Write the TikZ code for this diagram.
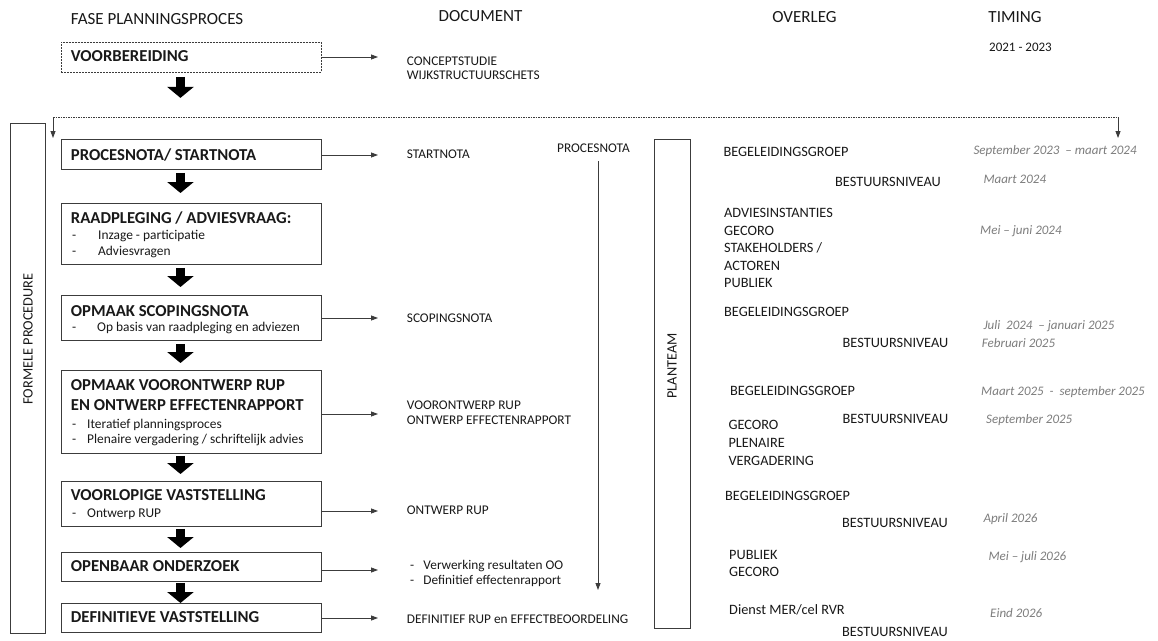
\documentclass[tikz,border=0pt]{standalone}
\usepackage{fontspec}
\setmainfont{Carlito}
\usetikzlibrary{arrows.meta}
\definecolor{bord}{RGB}{60,60,60}
\definecolor{tgray}{RGB}{125,125,125}
\definecolor{ink}{RGB}{25,25,25}
\begin{document}
\begin{tikzpicture}[x=1pt,y=-1pt,
 txt/.style={anchor=base west, inner sep=0pt, text=ink},
 hdr/.style={txt, font=\fontsize{17}{20}\selectfont},
 body/.style={txt, font=\fontsize{14.3}{17}\selectfont},
 doc/.style={txt, font=\fontsize{13.3}{16}\selectfont},
 ttl/.style={txt, font=\fontsize{16.7}{20}\selectfont\bfseries},
 sub/.style={txt, font=\fontsize{13.4}{16}\selectfont},
 tim/.style={txt, font=\fontsize{13}{16}\selectfont\itshape, text=tgray},
 box/.style={draw=bord, line width=0.9pt, rectangle, anchor=north west, inner sep=0pt, minimum width=260pt},
 col/.style={draw=bord, line width=0.9pt, rectangle, anchor=north west, inner sep=0pt},
 thin/.style={draw=bord, line width=0.8pt, -{Triangle[length=7pt,width=5pt]}},
 dots/.style={draw=bord, line width=0.8pt, dash pattern=on 1.5pt off 1pt},
 big/.style={draw=black, line width=9.5pt, -{Triangle[length=11pt,width=26pt]}},
]
\useasboundingbox (0,0) rectangle (1158,640);
\fill[white] (0,0) rectangle (1158,640);

% headers
\node[hdr] (hfase) at (70.7,24) {FASE PLANNINGSPROCES};
\node[hdr, anchor=base] (hdoc) at (480.5,21.7) {DOCUMENT};
\node[hdr, anchor=base] (hover) at (804.5,22.7) {OVERLEG};
\node[hdr, anchor=base] (htim) at (1015,22.7) {TIMING};

% boxes
\node[box, minimum height=30pt, dash pattern=on 2pt off 1pt] (b0) at (61,42) {};
\node[box, minimum height=30pt] (b1) at (61,139) {};
\node[box, minimum height=61pt] (b2) at (61,203) {};
\node[box, minimum height=45pt] (b3) at (61,295) {};
\node[box, minimum height=83pt] (b4) at (61,370) {};
\node[box, minimum height=45pt] (b5) at (61,481) {};
\node[box, minimum height=29pt] (b6) at (61,552) {};
\node[box, minimum height=29pt] (b7) at (61,603) {};

% box texts
\node[ttl] (t0) at (70.7,61.5) {VOORBEREIDING};
\node[ttl] (t1) at (70.7,160) {PROCESNOTA/ STARTNOTA};
\node[ttl] (t2) at (70.7,223.3) {RAADPLEGING / ADVIESVRAAG:};
\node[sub] (t2a) at (72,239.3) {\makebox[26pt][l]{-}Inzage - participatie};
\node[sub] (t2b) at (72,255) {\makebox[26pt][l]{-}Adviesvragen};
\node[ttl] (t3) at (70.7,316) {OPMAAK SCOPINGSNOTA};
\node[sub] (t3a) at (72,331.7) {\makebox[25pt][l]{-}Op basis van raadpleging en adviezen};
\node[ttl] (t4) at (70.7,390.7) {OPMAAK VOORONTWERP RUP};
\node[ttl] (t4b) at (70.7,410.7) {EN ONTWERP EFFECTENRAPPORT};
\node[sub] (t4c) at (72,428) {\makebox[15pt][l]{-}Iteratief planningsproces};
\node[sub] (t4d) at (72,443.5) {\makebox[15pt][l]{-}Plenaire vergadering / schriftelijk advies};
\node[ttl] (t5) at (70.7,500) {VOORLOPIGE VASTSTELLING};
\node[sub] (t5a) at (72,517) {\makebox[15pt][l]{-}Ontwerp RUP};
\node[ttl] (t6) at (70.7,571) {OPENBAAR ONDERZOEK};
\node[ttl] (t7) at (70.7,622.7) {DEFINITIEVE VASTSTELLING};

% thick arrows
\draw[big] ([xshift=-11pt,yshift=-4pt]b0.south) -- ++(0,21);
\draw[big] ([xshift=-11pt,yshift=-3pt]b1.south) -- ([xshift=-11pt,yshift=10pt]b2.north);
\draw[big] ([xshift=-11pt,yshift=-3pt]b2.south) -- ([xshift=-11pt,yshift=8pt]b3.north);
\draw[big] ([xshift=-11pt,yshift=-3pt]b3.south) -- ([xshift=-11pt,yshift=7pt]b4.north);
\draw[big] ([xshift=-11pt,yshift=-2pt]b4.south) -- ([xshift=-11pt,yshift=7pt]b5.north);
\draw[big] ([xshift=-11pt,yshift=-2pt]b5.south) -- ([xshift=-11pt,yshift=4pt]b6.north);
\draw[big] ([xshift=-11pt,yshift=-1pt]b6.south) -- ([xshift=-11pt,yshift=0pt]b7.north);

% document column
\node[doc] (d0a) at (406.7,65.3) {CONCEPTSTUDIE};
\node[doc] (d0b) at (406.7,79.3) {WIJKSTRUCTUURSCHETS};
\node[doc] (d1) at (406.7,158.7) {STARTNOTA};
\node[doc] (d3) at (406.7,322.7) {SCOPINGSNOTA};
\node[doc] (d4a) at (406.7,409.3) {VOORONTWERP RUP};
\node[doc] (d4b) at (406.7,424.3) {ONTWERP EFFECTENRAPPORT};
\node[doc] (d5) at (406.7,514) {ONTWERP RUP};
\node[doc] (d6a) at (410,569) {\makebox[13.3pt][l]{-}Verwerking resultaten OO};
\node[doc] (d6b) at (410,584) {\makebox[13.3pt][l]{-}Definitief effectenrapport};
\node[doc] (d7) at (406.7,623.3) {DEFINITIEF RUP en EFFECTBEOORDELING};

% thin arrows to documents
\coordinate (a0) at (378,57);
\coordinate (a1) at (378,155);
\coordinate (a3) at (378,318);
\coordinate (a4) at (378,414);
\coordinate (a5) at (378,511);
\coordinate (a6) at (378,570);
\coordinate (a7) at (378,618);
\draw[thin] (b0.east |- a0) -- (a0);
\draw[thin] (b1.east |- a1) -- (a1);
\draw[thin] (b3.east |- a3) -- (a3);
\draw[thin] (b4.east |- a4) -- (a4);
\draw[thin] (b5.east |- a5) -- (a5);
\draw[thin] (b6.east |- a6) -- (a6);
\draw[thin] (b7.east |- a7) -- (a7);

% dotted connector to formal procedure
\coordinate (cl) at (53,117);
\coordinate (cr) at (1118,117);
\coordinate (cle) at (53,138);
\coordinate (cre) at (1118,138);
\draw[dots] (cl) -- (cr);
\draw[thin] (cl) -- (cle);
\draw[thin] (cr) -- (cre);

% side column boxes
\node[col, minimum width=35pt, minimum height=510pt] (fp) at (10,123) {};
\node[body, anchor=center, rotate=90] (fpt) at (28,339) {FORMELE PROCEDURE};
\node[col, minimum width=36pt, minimum height=489pt] (pt) at (654,139) {};
\node[body, anchor=center, rotate=90] (ptt) at (672,366) {PLANTEAM};

% procesnota
\node[doc] (pn) at (557,152.7) {PROCESNOTA};
\coordinate (pns) at (598,161);
\coordinate (pne) at (598,590);
\draw[thin] (pns) -- (pne);

% overleg column
\node[body] (o1) at (723.3,156) {BEGELEIDINGSGROEP};
\node[body] (o2) at (835,186) {BESTUURSNIVEAU};
\node[body] (o3a) at (724,217.3) {ADVIESINSTANTIES};
\node[body] (o3b) at (724,235) {GECORO};
\node[body] (o3c) at (724,252.7) {STAKEHOLDERS /};
\node[body] (o3d) at (724,270) {ACTOREN};
\node[body] (o3e) at (724,287.3) {PUBLIEK};
\node[body] (o4) at (724,316) {BEGELEIDINGSGROEP};
\node[body] (o5) at (842.5,347.3) {BESTUURSNIVEAU};
\node[body] (o6) at (730,395.7) {BEGELEIDINGSGROEP};
\node[body] (o7) at (842.5,423.3) {BESTUURSNIVEAU};
\node[body] (o8a) at (728.3,429.3) {GECORO};
\node[body] (o8b) at (728.3,447.3) {PLENAIRE};
\node[body] (o8c) at (728.3,465) {VERGADERING};
\node[body] (o9) at (725,500.7) {BEGELEIDINGSGROEP};
\node[body] (o10) at (842,527.7) {BESTUURSNIVEAU};
\node[body] (o11a) at (729,559) {PUBLIEK};
\node[body] (o11b) at (729,576) {GECORO};
\node[body] (o12) at (729,614.3) {Dienst MER/cel RVR};
\node[body] (o13) at (842,636.5) {BESTUURSNIVEAU};

% timing column
\node[doc, font=\fontsize{13}{16}\selectfont] (y0) at (989,51.7) {2021 - 2023};
\node[tim] (y1) at (973.3,154) {September 2023 \ – maart 2024};
\node[tim] (y2) at (983.3,183.7) {Maart 2024};
\node[tim] (y3) at (980,234) {Mei – juni 2024};
\node[tim] (y4) at (983.3,329) {Juli \ 2024 \ – januari 2025};
\node[tim] (y5) at (981.7,347.3) {Februari 2025};
\node[tim] (y6) at (981,395.7) {Maart 2025 \ - \ september 2025};
\node[tim] (y7) at (986,423.3) {September 2025};
\node[tim] (y8) at (983.3,522.3) {April 2026};
\node[tim] (y9) at (988.3,560) {Mei – juli 2026};
\node[tim] (y10) at (990,617.7) {Eind 2026};
\end{tikzpicture}
\end{document}
